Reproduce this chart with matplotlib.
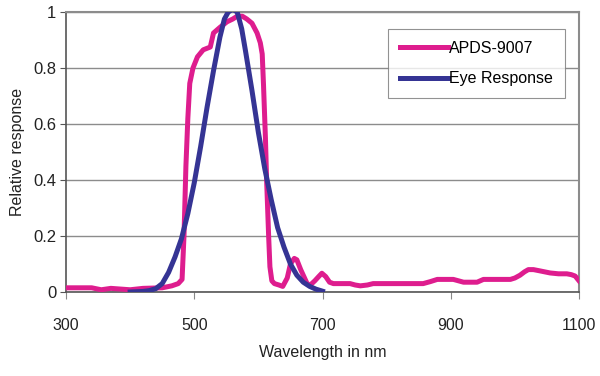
import matplotlib.pyplot as plt
import numpy as np

# APDS-9007 spectral response
apds_nm = [300, 340, 355, 370, 400, 420, 450, 465, 475, 481, 484, 487, 490, 493,
           498, 505, 514, 525, 530, 540, 551, 560, 567, 575, 582, 590, 598, 603,
           606, 608, 611, 613, 616, 618, 621, 625, 632, 638, 645, 650, 656, 660,
           666, 672, 676, 681, 688, 694, 699, 705, 711, 717, 730, 743, 751, 759,
           770, 779, 800, 830, 857, 868, 879, 892, 904, 912, 920, 931, 941, 951,
           970, 993, 1000, 1008, 1015, 1021, 1029, 1040, 1055, 1068, 1081, 1088,
           1094, 1100]
apds_resp = [0.015, 0.015, 0.008, 0.013, 0.008, 0.013, 0.015, 0.022, 0.03, 0.045,
             0.2, 0.45, 0.62, 0.745, 0.8, 0.84, 0.865, 0.875, 0.925, 0.945, 0.965,
             0.975, 0.985, 0.985, 0.975, 0.96, 0.925, 0.89, 0.85, 0.74, 0.55, 0.39,
             0.2, 0.09, 0.04, 0.03, 0.025, 0.02, 0.05, 0.1, 0.12, 0.115, 0.08, 0.05,
             0.03, 0.025, 0.04, 0.055, 0.067, 0.055, 0.035, 0.03, 0.03, 0.03, 0.025,
             0.022, 0.025, 0.03, 0.03, 0.03, 0.03, 0.037, 0.045, 0.045, 0.045, 0.04,
             0.035, 0.035, 0.035, 0.045, 0.045, 0.045, 0.05, 0.06, 0.072, 0.08,
             0.08, 0.075, 0.068, 0.065, 0.065, 0.062, 0.057, 0.04]

# eye (photopic) response
eye_nm = [400, 420, 430, 440, 450, 460, 470, 480, 490, 500, 510, 520, 530, 540,
          547, 553, 560, 567, 574, 580, 590, 600, 610, 620, 630, 640, 650, 660,
          670, 680, 690, 700]
eye_resp = [0.0, 0.002, 0.005, 0.012, 0.03, 0.07, 0.125, 0.19, 0.28, 0.39, 0.52,
            0.66, 0.79, 0.91, 0.975, 1.0, 1.01, 1.0, 0.94, 0.86, 0.72, 0.57, 0.44,
            0.33, 0.23, 0.16, 0.1, 0.06, 0.035, 0.02, 0.01, 0.003]

xticks = [300, 500, 700, 900, 1100]
yticks = [0, 0.2, 0.4, 0.6, 0.8, 1.0]
ytick_labels = ['0', '0.2', '0.4', '0.6', '0.8', '1']

plt.rcParams['font.family'] = ['Liberation Sans', 'DejaVu Sans']

fig = plt.figure(figsize=(6, 3.76), dpi=100)
ax = fig.add_axes([0.11, 0.2234, 0.855, 0.7446])

ax.plot(apds_nm, apds_resp, color='#DE1D8E', lw=3.6, label='APDS-9007',
        solid_joinstyle='round', zorder=3)
ax.plot(eye_nm, eye_resp, color='#353494', lw=3.6, label='Eye Response',
        solid_joinstyle='round', zorder=4)

ax.set_xlim(300, 1100)
ax.set_ylim(0, 1)
ax.set_xticks(xticks)
ax.set_xticklabels([str(t) for t in xticks])
ax.set_yticks(yticks)
ax.set_yticklabels(ytick_labels)
ax.tick_params(axis='x', labelsize=11.5, pad=14, length=5, color='#888888',
               direction='out', labelcolor='#222222')
ax.tick_params(axis='y', labelsize=12, pad=3, length=4, color='#555555',
               labelcolor='#222222')
ax.grid(axis='y', color='#8c8c8c', lw=1)
ax.set_axisbelow(True)

for s in ['top', 'right']:
    ax.spines[s].set_color('#8c8c8c')
    ax.spines[s].set_linewidth(1.5)
for s in ['left', 'bottom']:
    ax.spines[s].set_color('#555555')
    ax.spines[s].set_linewidth(1.2)

ax.set_xlabel('Wavelength in nm', fontsize=11.5, color='#222222', labelpad=8)
ax.set_ylabel('Relative response', fontsize=11.5, color='#222222', labelpad=6)

leg = ax.legend(loc='upper right', bbox_to_anchor=(0.973, 0.939), fontsize=11.5,
                frameon=True, fancybox=False, edgecolor='#777777',
                handlelength=3.0, handletextpad=0.1, borderpad=0.75,
                labelspacing=0.95, borderaxespad=0)
leg.get_frame().set_linewidth(0.8)

fig.savefig('out.png', dpi=100)
